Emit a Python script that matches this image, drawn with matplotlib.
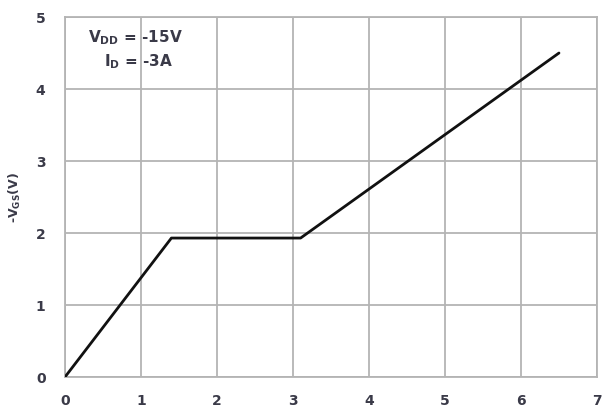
import matplotlib
matplotlib.use("Agg")
import matplotlib.pyplot as plt

# Gate charge curve: -VGS versus gate charge
qg = [0.0, 1.4, 3.1, 6.5]
vgs = [0.0, 1.93, 1.93, 4.5]
x_ticks = [0, 1, 2, 3, 4, 5, 6, 7]
y_ticks = [0, 1, 2, 3, 4, 5]

plt.rcParams['font.family'] = ['DejaVu Sans']
text_color = '#3a3a48'

fig = plt.figure(figsize=(6.03, 4.07), dpi=100)
ax = fig.add_axes([0.1078, 0.0737, 0.8822, 0.8845])

ax.plot(qg, vgs, color='#111111', lw=2.0, solid_capstyle='round', zorder=3)

ax.set_xlim(0, 7)
ax.set_ylim(0, 5)
ax.set_xticks(x_ticks)
ax.set_yticks(y_ticks)
ax.grid(True, color='#b4b4b4', lw=1.3)
for s in ax.spines.values():
    s.set_color('#b4b4b4')
    s.set_linewidth(1.3)
ax.tick_params(axis='y', length=0, pad=14, labelsize=10, labelcolor=text_color)
ax.tick_params(axis='x', length=0, pad=12, labelsize=10, labelcolor=text_color)
for lbl in ax.get_xticklabels() + ax.get_yticklabels():
    lbl.set_fontweight('bold')

fig.text(0.025, 0.515, r'-V$_{\mathregular{GS}}$(V)', rotation=90, ha='center', va='center',
         fontsize=9, fontweight='bold', color=text_color)

ax.text(0.92, 4.72, r'V$_{\mathregular{DD}}$ = -15V', ha='center', va='center',
        fontsize=11, fontweight='bold', color=text_color)
ax.text(0.97, 4.375, r'I$_{\mathregular{D}}$ = -3A', ha='center', va='center',
        fontsize=11, fontweight='bold', color=text_color)

fig.savefig('out.png', dpi=100)
